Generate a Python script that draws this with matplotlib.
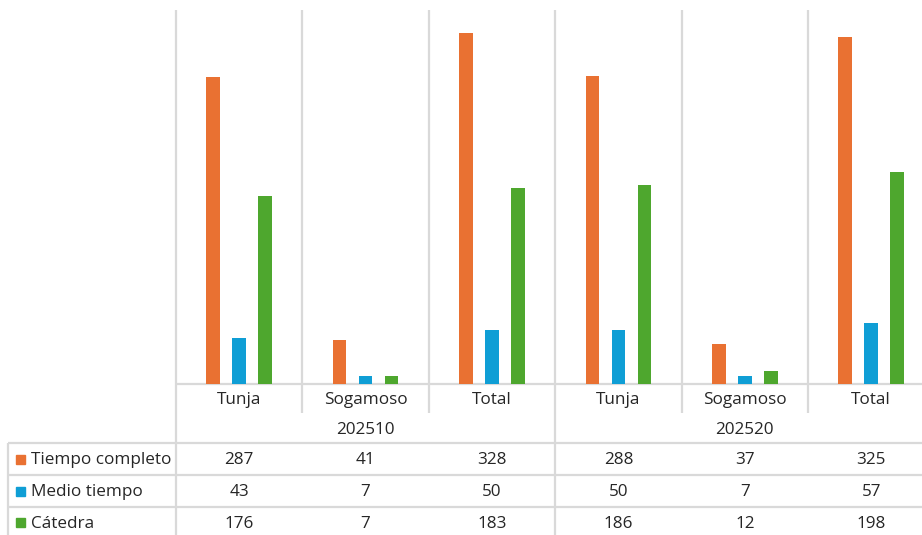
import numpy as np
import matplotlib.pyplot as plt
from matplotlib.patches import Rectangle

campus = ["Tunja", "Sogamoso", "Total", "Tunja", "Sogamoso", "Total"]
periods = ["202510", "202520"]
series = ["Tiempo completo", "Medio tiempo", "Cátedra"]
tiempo_completo = [287, 41, 328, 288, 37, 325]
medio_tiempo = [43, 7, 50, 50, 7, 57]
catedra = [176, 7, 183, 186, 12, 198]
values = [tiempo_completo, medio_tiempo, catedra]
colors = ["#E97132", "#0F9ED5", "#4EA72E"]

plt.rcParams["font.family"] = ["Open Sans", "DejaVu Sans"]
txt = "#262626"
gc = "#D9D9D9"

W, H = 922, 535
fig = plt.figure(figsize=(W / 100, H / 100), dpi=100)
colw = 126.4
x0, ybase, ytop = 176, 383.5, 10
ax = fig.add_axes([x0 / W, (H - ybase) / H, 6 * colw / W, (ybase - ytop) / H])
ax.set_xlim(0, 6)
ax.set_ylim(0, 350)
ax.axis("off")

def px(p):
    return (p - x0) / colw

def py(p):
    return (ybase - p) / (ybase - ytop)

x = np.arange(len(campus)) + 0.5
bw = 13.5 / colw
step = 26 / colw
for k, (vals, c) in enumerate(zip(values, colors)):
    ax.bar(x + (k - 1) * step, vals, width=bw, color=c, zorder=3)

tr = ax.get_xaxis_transform()
grid = dict(color=gc, lw=1.6, transform=tr, clip_on=False, solid_capstyle="butt", zorder=1)

# category separators
for i in range(len(campus)):
    bottom = 545 if i in (0, 3) else 413
    ax.plot([i, i], [1, py(bottom)], **grid)
ax.plot([px(8), px(8)], [py(443), py(545)], **grid)

# axis line and table rows
ax.plot([0, 6], [0, 0], **grid)
for yy in (443, 475, 507):
    ax.plot([px(8), 6], [py(yy), py(yy)], **grid)

fs = 12.3
dy = 1.5
for i, name in enumerate(campus):
    ax.text(x[i], py(398 + dy), name, ha="center", va="center", fontsize=fs, color=txt,
            transform=tr, clip_on=False)
for j, per in enumerate(periods):
    ax.text(1.5 + 3 * j, py(428 + dy), per, ha="center", va="center", fontsize=fs, color=txt,
            transform=tr, clip_on=False)

rows_y = [459, 491, 522]
for r, (name, vals, c) in enumerate(zip(series, values, colors)):
    yc = rows_y[r]
    ax.add_patch(Rectangle((px(16), py(yc + 4.5)), 9 / colw, 9 / (ybase - ytop),
                           color=c, transform=tr, clip_on=False))
    ax.text(px(31), py(yc + dy), name, ha="left", va="center", fontsize=fs, color=txt,
            transform=tr, clip_on=False)
    for i, v in enumerate(vals):
        ax.text(x[i], py(yc + dy), str(v), ha="center", va="center", fontsize=fs, color=txt,
                transform=tr, clip_on=False)

fig.savefig("out.png", dpi=100)
